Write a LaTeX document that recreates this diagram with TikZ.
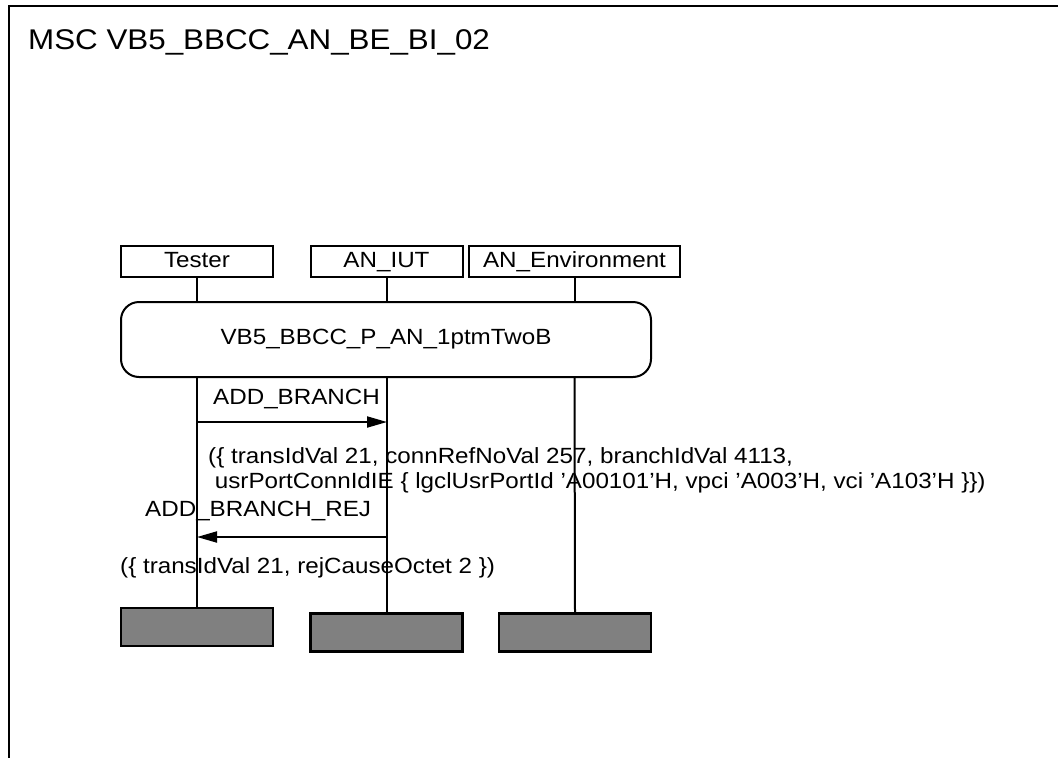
\documentclass[tikz,border=0pt]{standalone}
\usepackage{fontspec}
\setmainfont[FakeStretch=1.1]{Liberation Sans}
\usetikzlibrary{arrows.meta}
\begin{document}
\begin{tikzpicture}[x=1pt,y=-1pt,
  lbl/.style={font=\fontsize{22}{25}\selectfont, inner sep=0pt},
  inst/.style={draw, line width=2pt, minimum width=152pt, minimum height=31pt, inner sep=0pt, text height=16pt, text depth=5pt, font=\fontsize{22}{26}\selectfont},
  refbox/.style={draw, line width=2pt, rounded corners=18pt, minimum width=530pt, minimum height=75pt, inner sep=0pt, font=\fontsize{22}{26}\selectfont},
  endbox/.style={draw, line width=2.5pt, fill={rgb,255:red,128;green,128;blue,128}, minimum width=152pt, minimum height=38pt, inner sep=0pt},
  life/.style={line width=2pt},
  msg/.style={line width=2pt, -{Triangle[length=20pt,width=11pt]}},
  frame/.style={line width=2.5pt}
]
\useasboundingbox (0,0) rectangle (1058,758);
% frame
\coordinate (ftr) at (1060,6);
\coordinate (ftl) at (9,6);
\coordinate (fbl) at (9,760);
\draw[frame] (ftr) -- (ftl) -- (fbl);
\node[lbl, anchor=base west, font=\fontsize{28.5}{32}\selectfont] (title) at (28,49) {MSC VB5\_BBCC\_AN\_BE\_BI\_02};
% instance heads
\node[inst] (tester) at (197,261.5) {Tester};
\node[inst] (iut) at (386.5,261.5) {AN\_IUT};
\node[inst, minimum width=211pt] (env) at (574.5,261.5) {AN\_Environment};
% reference
\node[refbox] (ref) at (386,339.5) {VB5\_BBCC\_P\_AN\_1ptmTwoB};
% end boxes
\node[endbox] (tend) at (197,627) {};
\node[endbox] (iend) at (386.5,632.5) {};
\node[endbox] (eend) at (575,632.5) {};
% lifelines
\draw[life] (tester.south) -- (tester.south |- ref.north);
\draw[life] (iut.south) -- (iut.south |- ref.north);
\draw[life] (env.south) -- (env.south |- ref.north);
\draw[life] (tester.south |- ref.south) -- (tend.north);
\draw[life] (iut.south |- ref.south) -- (iend.north);
\draw[life] (env.south |- ref.south) -- (eend.north);
% messages
\coordinate (m1s) at (197,422);
\coordinate (m1e) at (387,422);
\draw[msg] (m1s) -- (m1e);
\node[lbl, anchor=base west] (m1l) at (213,404) {ADD\_BRANCH};
\node[lbl, anchor=base west, align=left] (m1p) at (208,488) {(\{ transIdVal 21, connRefNoVal 257, branchIdVal 4113,\\\ usrPortConnIdIE \{ lgclUsrPortId ’A00101’H, vpci ’A003’H, vci ’A103’H \}\})};
\coordinate (m2s) at (387,537);
\coordinate (m2e) at (197,537);
\draw[msg] (m2s) -- (m2e);
\node[lbl, anchor=base west] (m2l) at (145,516) {ADD\_BRANCH\_REJ};
\node[lbl, anchor=base west] (m2p) at (120,573) {(\{ transIdVal 21, rejCauseOctet 2 \})};
\end{tikzpicture}
\end{document}
